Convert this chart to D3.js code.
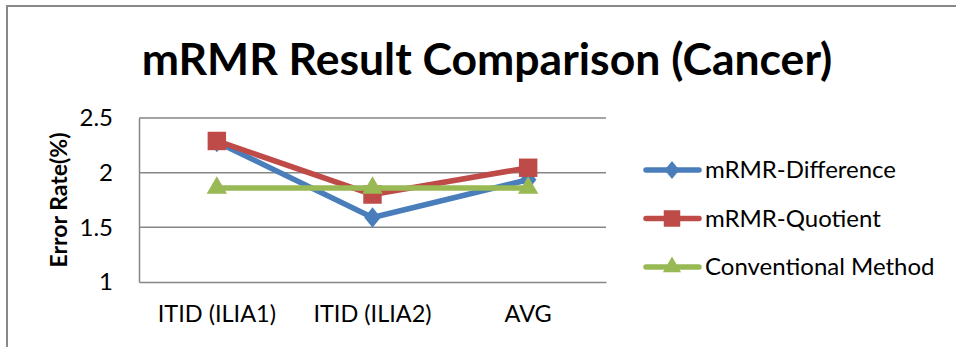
<!DOCTYPE html>
<html>
<head>
<meta charset="utf-8">
<script src="https://cdn.jsdelivr.net/npm/d3@7"></script>
<style>
  html, body { margin: 0; padding: 0; background: #fff; }
  svg { display: block; font-family: Lato, "Open Sans", sans-serif; }
</style>
</head>
<body>
<svg id="chart" width="956" height="347"></svg>
<script>
// Error rates (%) for each feature-selection approach
const categories = ["ITID (ILIA1)", "ITID (ILIA2)", "AVG"];
const mrmrDifference = [2.28, 1.59, 1.935];
const mrmrQuotient = [2.29, 1.80, 2.045];
const conventional = [1.86, 1.86, 1.86];
const yTicks = [1, 1.5, 2, 2.5];

const series = [
  { name: "mRMR-Difference", values: mrmrDifference, color: "#4A7EBB", symbol: d3.symbolDiamond, size: 120, sx: 1.4 },
  { name: "mRMR-Quotient", values: mrmrQuotient, color: "#BE4B48", symbol: d3.symbolSquare, size: 340, sx: 1 },
  { name: "Conventional Method", values: conventional, color: "#98B954", symbol: d3.symbolTriangle, size: 180, sx: 1 }
];

const svg = d3.select("#chart");
const plot = { left: 139, right: 606, top: 118, bottom: 282 };
const labelSize = 23.5;

// Outer chart frame
svg.append("rect")
  .attr("x", 7).attr("y", 6).attr("width", 960).attr("height", 360)
  .attr("fill", "none").attr("stroke", "#888").attr("stroke-width", 2);

svg.append("text")
  .attr("x", 487).attr("y", 75)
  .attr("text-anchor", "middle")
  .attr("font-size", 44.5).attr("font-weight", "bold")
  .attr("fill", "#000")
  .text("mRMR Result Comparison (Cancer)");

const x = d3.scaleBand().domain(categories).range([plot.left, plot.right]);
const y = d3.scaleLinear().domain([1, 2.5]).range([plot.bottom, plot.top]);

// Horizontal gridlines
svg.append("g").selectAll("line").data(yTicks.slice(1)).join("line")
  .attr("x1", plot.left).attr("x2", plot.right)
  .attr("y1", d => y(d)).attr("y2", d => y(d))
  .attr("stroke", "#868686").attr("stroke-width", 1.5);

// Plot area left and bottom edges
const yAxis = svg.append("g")
  .attr("transform", `translate(${plot.left},0)`)
  .call(d3.axisLeft(y).tickValues(yTicks).tickFormat(d3.format("")).tickSize(0).tickPadding(26));
yAxis.select(".domain").attr("stroke", "#868686").attr("stroke-width", 1.5);
yAxis.selectAll("text").attr("font-size", 24).attr("fill", "#000")
  .attr("font-family", "Lato, sans-serif");

const xAxis = svg.append("g")
  .attr("transform", `translate(0,${plot.bottom})`)
  .call(d3.axisBottom(x).tickSize(0).tickPadding(23));
xAxis.select(".domain").attr("stroke", "#868686").attr("stroke-width", 1.5);
xAxis.selectAll("text").attr("font-size", labelSize).attr("fill", "#000")
  .attr("font-family", "Lato, sans-serif");

svg.append("text")
  .attr("transform", `translate(67,${(plot.top + plot.bottom) / 2}) rotate(-90)`)
  .attr("text-anchor", "middle")
  .attr("font-size", 23).attr("font-weight", "bold")
  .text("Error Rate(%)");

const cx = d => x(d) + x.bandwidth() / 2;
const line = d3.line().x((d, i) => cx(categories[i])).y(d => y(d));

series.forEach(s => {
  const g = svg.append("g");
  g.append("path").datum(s.values)
    .attr("d", line).attr("fill", "none")
    .attr("stroke", s.color).attr("stroke-width", 5.5)
    .attr("stroke-linejoin", "round");
  g.selectAll("path.m").data(s.values).join("path")
    .attr("class", "m")
    .attr("d", d3.symbol(s.symbol, s.size))
    .attr("transform", (d, i) => `translate(${cx(categories[i])},${y(d)}) scale(${s.sx},1)`)
    .attr("fill", s.color);
});

// Legend
const legend = svg.append("g");
series.forEach((s, i) => {
  const ly = 170 + i * 48.5;
  legend.append("line")
    .attr("x1", 646).attr("x2", 699).attr("y1", ly).attr("y2", ly)
    .attr("stroke", s.color).attr("stroke-width", 5.5).attr("stroke-linecap", "round");
  legend.append("path")
    .attr("d", d3.symbol(s.symbol, s.size * 0.8))
    .attr("transform", `translate(672,${ly}) scale(${s.sx},1)`)
    .attr("fill", s.color);
  legend.append("text")
    .attr("x", 705).attr("y", ly + 8)
    .attr("font-size", 24).attr("fill", "#000")
    .text(s.name);
});
</script>
</body>
</html>
